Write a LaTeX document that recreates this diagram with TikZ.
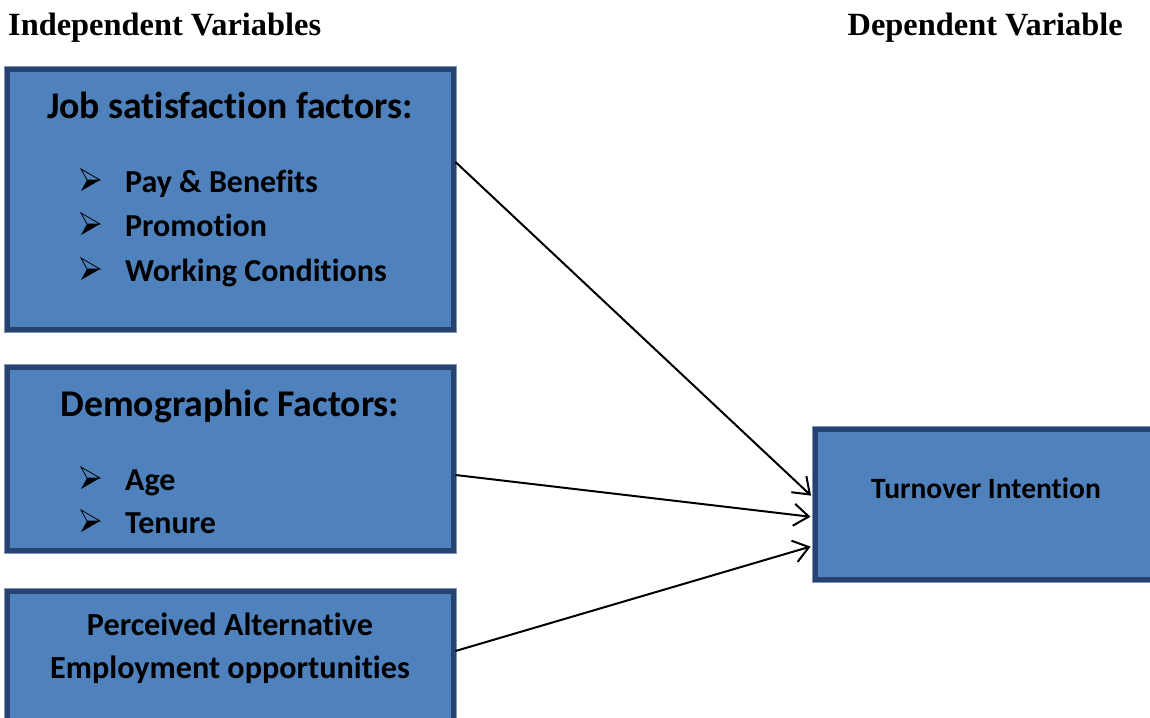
\documentclass[tikz,border=0pt]{standalone}
\usepackage{fontspec}
\setmainfont{Carlito}[Ligatures=NoCommon]
\newfontfamily\hdrfont{Liberation Serif}
\usetikzlibrary{arrows.meta}
\definecolor{boxfill}{HTML}{4F81BD}
\definecolor{boxline}{HTML}{254270}
\definecolor{boxedge}{HTML}{8097B4}
\tikzset{
  box/.style={rectangle, fill=boxfill, draw=boxline, line width=5pt, inner sep=0pt,
    preaction={draw=boxedge, line width=7pt}},
  hdr/.style={font=\hdrfont\bfseries\fontsize{32.4}{36}\selectfont, anchor=base, inner sep=0pt},
  ttl/.style={font=\bfseries\fontsize{37.7}{40}\selectfont, anchor=base, inner sep=0pt},
  itm/.style={font=\bfseries\fontsize{32}{36}\selectfont, anchor=base west, inner sep=0pt},
  sub/.style={font=\bfseries\fontsize{32.2}{34}\selectfont, anchor=base, inner sep=0pt},
  pics/arrowbullet/.style={code={
    \draw[line width=0.8pt, line join=miter] (0,-11) -- (19,0) -- (6,0) -- cycle;
    \fill (6,0) -- (19,0) -- (0,11) -- cycle;
  }},
  conn/.style={line width=2pt, -{Straight Barb[length=15pt,width=22pt,line width=2pt]}, shorten >=2pt}
}
\begin{document}
\begin{tikzpicture}[x=1pt,y=-1pt]
\useasboundingbox (0,0) rectangle (1150,717);
\clip (0,0) rectangle (1150,717);
% headers
\node[hdr, anchor=base west] (h1) at (8,36) {Independent Variables};
\node[hdr, anchor=base east] (h2) at (1123,36) {Dependent Variable};
% boxes
\node[box, minimum width=446pt, minimum height=260pt] (b1) at (230,199) {};
\node[box, minimum width=446pt, minimum height=183pt] (b2) at (230,458.5) {};
\node[box, minimum width=446pt, minimum height=149pt] (b3) at (230,665.5) {};
\node[box, minimum width=342pt, minimum height=150pt] (b4) at (986,504) {};
% box 1 text
\node[ttl] (t1) at (230,118) {Job satisfaction factors:};
\pic at (81,180) {arrowbullet};
\node[itm] (i1) at (125,192) {Pay \& Benefits};
\pic at (81,224) {arrowbullet};
\node[itm] (i2) at (125,236) {Promotion};
\pic at (81,269) {arrowbullet};
\node[itm] (i3) at (125,281) {Working Conditions};
% box 2 text
\node[ttl] (t2) at (230,416) {Demographic Factors:};
\pic at (81,478) {arrowbullet};
\node[itm] (i4) at (125,490) {Age};
\pic at (81,521) {arrowbullet};
\node[itm] (i5) at (125,533) {Tenure};
% box 3 text
\node[sub] (t3a) at (230,635) {Perceived Alternative};
\node[sub] (t3b) at (230,678) {Employment opportunities};
% box 4 text
\node[sub, font=\bfseries\fontsize{29.5}{32}\selectfont] (t4) at (986,498) {Turnover Intention};
% connectors
\draw[conn] ([yshift=37pt]b1.east) -- ([yshift=7pt]b4.west);
\draw[conn] ([yshift=-16.5pt]b2.east) -- ([yshift=-13pt]b4.west);
\draw[conn] ([yshift=14.5pt]b3.east) -- ([yshift=-42pt]b4.west);
\end{tikzpicture}
\end{document}
